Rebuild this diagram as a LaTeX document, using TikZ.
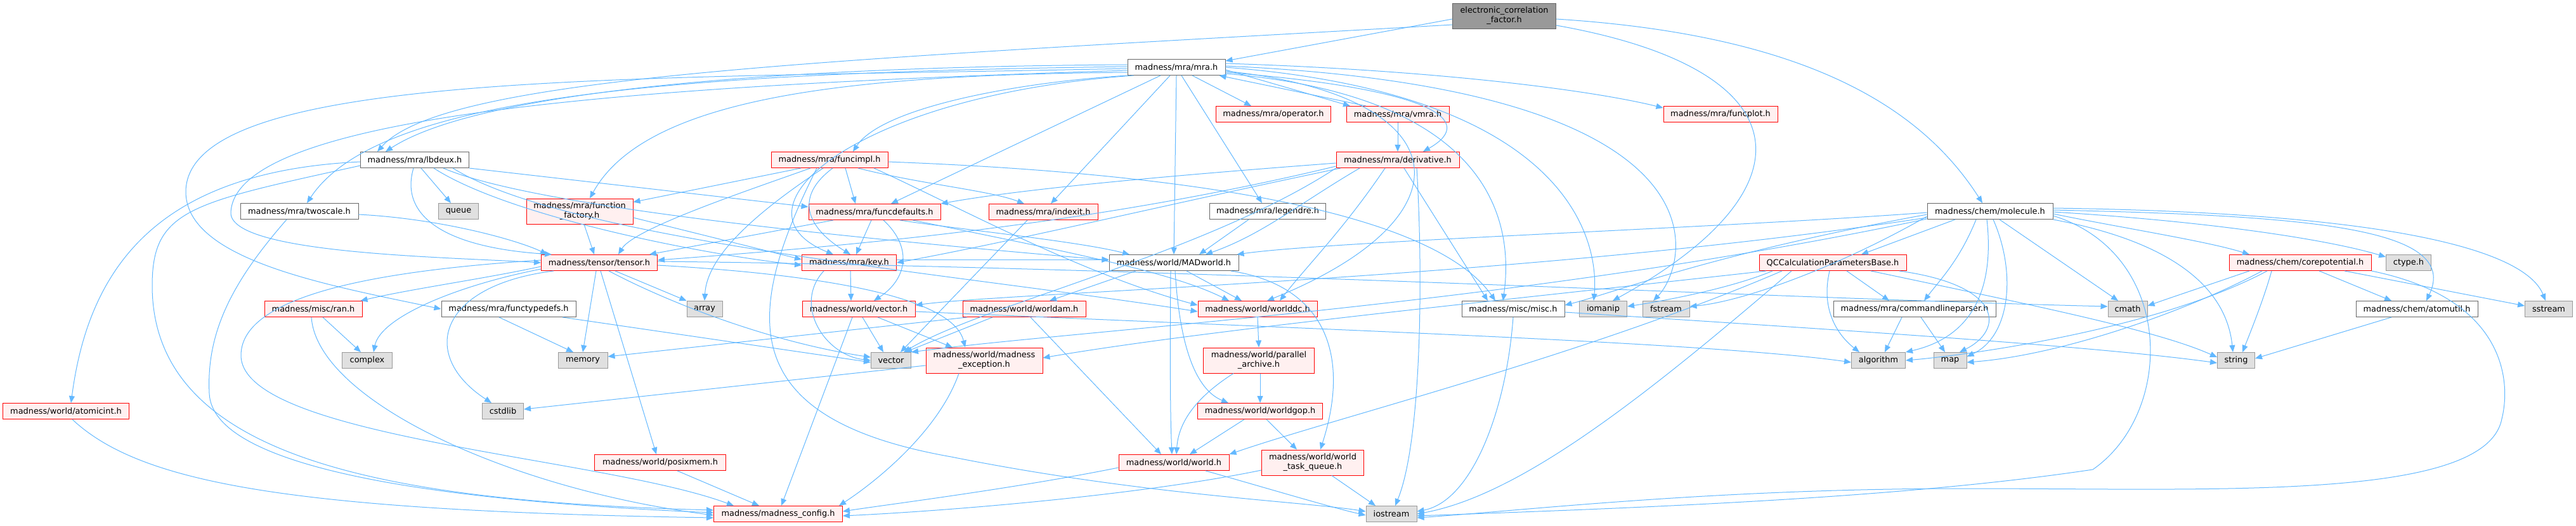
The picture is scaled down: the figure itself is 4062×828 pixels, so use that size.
\documentclass[tikz,border=0pt]{standalone}
\usepackage{fontspec}
\newfontfamily\graphfont{DejaVu Sans}
\usetikzlibrary{arrows.meta}
\definecolor{deplink}{HTML}{63B8FF}
\definecolor{boxgrey}{HTML}{666666}
\definecolor{truncfill}{HTML}{FFF0F0}
\definecolor{sysline}{HTML}{999999}
\definecolor{sysfill}{HTML}{E0E0E0}
\definecolor{rootfill}{HTML}{999999}
\tikzset{
    incl graph/.style = {x=1pt, y=1pt, >={Triangle[length=11pt,width=9pt]}},
    file/.style       = {draw=boxgrey, fill=white, line width=1pt, inner sep=0pt,
                         minimum height=25pt,
                         font={\graphfont\fontsize{12.9pt}{15pt}\selectfont}},
    truncfile/.style  = {file, draw=red, fill=truncfill},
    sysfile/.style    = {file, draw=sysline, fill=sysfill},
    rootfile/.style   = {file, fill=rootfill},
    twoline/.style    = {align=center, minimum height=40pt},
    dep/.style        = {->, draw=deplink, line width=1pt}
}

\begin{document}
\begin{tikzpicture}[incl graph]
\useasboundingbox (0,0) rectangle (4062,-828);

% ================= Files =================
\node[rootfile, twoline, minimum width=163pt] (ecf) at (2372,-25) {electronic\_correlation\\\_factor.h};
\node[file, minimum width=154pt] (mra) at (1855,-106) {madness/mra/mra.h};
\node[truncfile, minimum width=181pt] (operator) at (2008,-180) {madness/mra/operator.h};
\node[truncfile, minimum width=162pt] (vmra) at (2204,-180) {madness/mra/vmra.h};
\node[truncfile, minimum width=180pt] (funcplot) at (2713,-180) {madness/mra/funcplot.h};
\node[file, minimum width=171pt] (lbdeux) at (654,-252) {madness/mra/lbdeux.h};
\node[truncfile, minimum width=184pt] (funcimpl) at (1308,-252) {madness/mra/funcimpl.h};
\node[truncfile, minimum width=194pt] (derivative) at (2204,-252) {madness/mra/derivative.h};
\node[file, minimum width=186pt] (twoscale) at (472,-333) {madness/mra/twoscale.h};
\node[sysfile, minimum width=63pt] (queue) at (723,-333) {queue};
\node[truncfile, twoline, minimum width=168pt] (ffact) at (914,-333) {madness/mra/function\\\_factory.h};
\node[truncfile, minimum width=208pt] (funcdef) at (1379,-334) {madness/mra/funcdefaults.h};
\node[truncfile, minimum width=172pt] (indexit) at (1645,-334) {madness/mra/indexit.h};
\node[file, minimum width=183pt] (legendre) at (1999,-333) {madness/mra/legendre.h};
\node[file, minimum width=198pt] (molecule) at (3138,-333) {madness/chem/molecule.h};
\node[truncfile, minimum width=183pt] (tensor) at (945,-414) {madness/tensor/tensor.h};
\node[truncfile, minimum width=149pt] (key) at (1339,-414) {madness/mra/key.h};
\node[file, minimum width=204pt] (madworld) at (1851,-414) {madness/world/MADworld.h};
\node[truncfile, minimum width=232pt] (qccalc) at (2890,-414) {QCCalculationParametersBase.h};
\node[truncfile, minimum width=224pt] (corepot) at (3627,-414) {madness/chem/corepotential.h};
\node[sysfile, minimum width=71pt] (ctype) at (3798,-414) {ctype.h};
\node[truncfile, minimum width=154pt] (ran) at (494,-487) {madness/misc/ran.h};
\node[file, minimum width=212pt] (functypedefs) at (802,-487) {madness/mra/functypedefs.h};
\node[sysfile, minimum width=56pt] (array) at (1111,-487) {array};
\node[truncfile, minimum width=178pt] (wvector) at (1354,-487) {madness/world/vector.h};
\node[truncfile, minimum width=194pt] (worldam) at (1615,-487) {madness/world/worldam.h};
\node[truncfile, minimum width=188pt] (worlddc) at (1983,-487) {madness/world/worlddc.h};
\node[file, minimum width=162pt] (misc) at (2386,-487) {madness/misc/misc.h};
\node[sysfile, minimum width=75pt] (iomanip) at (2528,-487) {iomanip};
\node[sysfile, minimum width=74pt] (fstream) at (2627,-487) {fstream};
\node[file, minimum width=256pt] (cmdline) at (3019,-487) {madness/mra/commandlineparser.h};
\node[sysfile, minimum width=62pt] (cmath) at (3355,-487) {cmath};
\node[file, minimum width=192pt] (atomutil) at (3811,-487) {madness/chem/atomutil.h};
\node[sysfile, minimum width=75pt] (sstream) at (4019,-487) {sstream};
\node[sysfile, minimum width=79pt] (complex) at (579,-568) {complex};
\node[sysfile, minimum width=78pt] (memory) at (919,-568) {memory};
\node[sysfile, minimum width=63pt] (vector) at (1405,-568) {vector};
\node[truncfile, twoline, minimum width=184pt] (mexc) at (1552,-568) {madness/world/madness\\\_exception.h};
\node[truncfile, twoline, minimum width=175pt] (parchive) at (1985,-568) {madness/world/parallel\\\_archive.h};
\node[sysfile, minimum width=85pt] (algorithm) at (2962,-568) {algorithm};
\node[sysfile, minimum width=52pt] (map) at (3075,-568) {map};
\node[sysfile, minimum width=59pt] (string) at (3526,-568) {string};
\node[truncfile, minimum width=199pt] (atomicint) at (104,-648) {madness/world/atomicint.h};
\node[sysfile, minimum width=65pt] (cstdlib) at (793,-648) {cstdlib};
\node[truncfile, minimum width=197pt] (worldgop) at (1987,-648) {madness/world/worldgop.h};
\node[truncfile, minimum width=207pt] (posixmem) at (1041,-729) {madness/world/posixmem.h};
\node[truncfile, minimum width=174pt] (world) at (1851,-729) {madness/world/world.h};
\node[truncfile, twoline, minimum width=161pt] (taskq) at (2070,-729) {madness/world/world\\\_task\_queue.h};
\node[truncfile, minimum width=203pt] (config) at (1227,-810) {madness/madness\_config.h};
\node[sysfile, minimum width=80pt] (iostream) at (2194,-810) {iostream};

% ================= electronic_correlation_factor.h =================
\draw[dep] ([yshift=-5pt]ecf.west) -- ([yshift=-3pt]mra.north east);
\draw[dep] ([yshift=-14pt]ecf.west) .. controls (1300,-95) and (700,-120) .. ([xshift=27pt]lbdeux.north west);
\draw[dep] ([yshift=-5pt]ecf.east) .. controls (2850,-55) and (3030,-170) .. ([xshift=-12pt]molecule.north);
\draw[dep] ([yshift=-15pt]ecf.east) .. controls (2850,-110) and (2860,-300) .. ([xshift=15pt]iomanip.north);

% ================= mra.h =================
\draw[dep] ([xshift=25pt]mra.south) -- ([xshift=-35pt]operator.north);
\draw[dep] ([yshift=-4pt]mra.east) -- ([xshift=-75pt]vmra.north);
\draw[dep] ([xshift=-50pt]vmra.north) -- ([xshift=-10pt]mra.south east);
\draw[dep] ([yshift=-8pt]mra.east) .. controls (2260,-140) and (2330,-190) .. ([xshift=40pt]derivative.north);
\draw[dep] ([yshift=6pt]mra.east) .. controls (2250,-110) and (2500,-140) .. ([yshift=-3pt]funcplot.north west);
\draw[dep] (mra.south west) .. controls (1600,-130) and (1390,-170) .. ([xshift=37pt]funcimpl.north);
\draw[dep] ([xshift=-25pt]mra.south) -- ([xshift=26pt]funcdef.north);
\draw[dep] ([xshift=-10pt]mra.south) -- ([xshift=12pt]indexit.north);
\draw[dep] (mra.south) -- (madworld.north);
\draw[dep] ([xshift=8pt]mra.south) -- ([xshift=-9pt]legendre.north);
\draw[dep] ([yshift=4pt]mra.west) .. controls (1250,-105) and (760,-140) .. ([xshift=40pt]lbdeux.north west);
\draw[dep] ([yshift=1pt]mra.west) .. controls (1000,-115) and (590,-160) .. ([xshift=12pt]twoscale.north);
\draw[dep] ([yshift=-2pt]mra.west) .. controls (1000,-125) and (300,-110) .. (293,-300)
    .. controls (290,-410) and (520,-450) .. (functypedefs.west);
\draw[dep] ([yshift=-5pt]mra.west) .. controls (1000,-135) and (370,-180) .. (364,-335)
    .. controls (362,-400) and (700,-405) .. (tensor.west);
\draw[dep] ([yshift=-8pt]mra.west) .. controls (1350,-118) and (1020,-150) .. ([xshift=16pt]ffact.north);
\draw[dep] ([xshift=10pt]mra.south west) .. controls (1350,-150) and (1140,-330) .. ([xshift=-25pt]key.north);
\draw[dep] ([yshift=-10pt]mra.east) .. controls (2330,-150) and (2390,-330) .. ([xshift=-16pt]misc.north);
\draw[dep] ([yshift=-6pt]mra.east) .. controls (2300,-150) and (2330,-340) .. ([xshift=15pt]worlddc.north);
\draw[dep] ([yshift=2pt]mra.east) .. controls (2750,-140) and (2660,-420) .. ([xshift=-20pt]fstream.north);
\draw[dep] (mra.east) .. controls (2500,-150) and (2520,-400) .. ([xshift=-15pt]iomanip.north);

% ================= vmra.h, derivative.h =================
\draw[dep] (vmra) -- (derivative);
\draw[dep] ([yshift=-5pt]derivative.west) .. controls (1800,-280) and (1600,-300) .. (funcdef.north east);
\draw[dep] ([xshift=-90pt]derivative.south) .. controls (1850,-320) and (1600,-380) .. (key.east);
\draw[dep] ([xshift=-60pt]derivative.south) .. controls (2050,-320) and (1990,-370) .. ([xshift=50pt]madworld.north);
\draw[dep] ([xshift=-20pt]derivative.south) .. controls (2120,-360) and (2060,-420) .. ([xshift=35pt]worlddc.north);
\draw[dep] ([xshift=10pt]derivative.south) -- ([xshift=-40pt]misc.north);
\draw[dep] ([xshift=30pt]derivative.south) .. controls (2245,-450) and (2240,-700) .. ([xshift=6pt]iostream.north);
\draw[dep] (derivative.south west) .. controls (1900,-400) and (1550,-480) .. ([xshift=20pt]vector.north);
\draw[dep] ([yshift=-10pt]derivative.west) .. controls (1700,-360) and (1300,-390) .. ([yshift=4pt]tensor.east);

% ================= funcimpl.h =================
\draw[dep] ([xshift=-45pt]funcimpl.south) -- ([yshift=-6pt]ffact.north east);
\draw[dep] ([xshift=-30pt]funcimpl.south) .. controls (1180,-300) and (1000,-360) .. ([xshift=30pt]tensor.north);
\draw[dep] ([xshift=25pt]funcimpl.south) -- ([xshift=-30pt]funcdef.north);
\draw[dep] ([xshift=5pt]funcimpl.south) .. controls (1240,-320) and (1290,-370) .. ([xshift=2pt]key.north);
\draw[dep] ([xshift=-10pt]funcimpl.south) .. controls (1200,-330) and (1115,-400) .. (array.north);
\draw[dep] ([xshift=45pt]funcimpl.south) .. controls (1450,-290) and (1560,-300) .. ([xshift=-30pt]indexit.north);
\draw[dep] ([xshift=70pt]funcimpl.south) .. controls (1500,-320) and (1700,-430) .. ([yshift=6pt]worlddc.west);
\draw[dep] ([yshift=-3pt]funcimpl.east) .. controls (1800,-270) and (2250,-320) .. ([xshift=-28pt]misc.north);
\draw[dep] ([xshift=-20pt]funcimpl.south) .. controls (1170,-500) and (1160,-660) .. (1500,-720)
    .. controls (1800,-780) and (2050,-790) .. ([yshift=4pt]iostream.west);

% ================= lbdeux.h, twoscale.h, function_factory.h =================
\draw[dep] ([yshift=-3pt]lbdeux.west) .. controls (250,-270) and (140,-420) .. ([xshift=8pt]atomicint.north);
\draw[dep] ([yshift=-9pt]lbdeux.west) .. controls (300,-320) and (240,-330) .. (240,-450)
    .. controls (240,-720) and (600,-790) .. ([yshift=6pt]config.west);
\draw[dep] ([xshift=10pt]lbdeux.south) -- ([xshift=-12pt]queue.north);
\draw[dep] (lbdeux.south east) -- ([yshift=8pt]funcdef.west);
\draw[dep] ([xshift=-2pt]lbdeux.south) .. controls (630,-340) and (700,-390) .. ([xshift=-75pt]tensor.north);
\draw[dep] ([xshift=30pt]lbdeux.south) .. controls (800,-340) and (1100,-400) .. ([yshift=-4pt]key.west);
\draw[dep] ([xshift=45pt]lbdeux.south) .. controls (850,-330) and (1400,-380) .. ([yshift=4pt]madworld.west);
\draw[dep] ([xshift=60pt]lbdeux.south) .. controls (900,-380) and (1500,-430) .. ([yshift=-4pt]worlddc.west);
\draw[dep] ([yshift=-5pt]twoscale.east) .. controls (700,-345) and (820,-380) .. ([xshift=-82pt]tensor.north);
\draw[dep] ([xshift=-20pt]twoscale.south) .. controls (370,-440) and (325,-520) .. (330,-620)
    .. controls (335,-740) and (700,-790) .. ([yshift=2pt]config.west);
\draw[dep] ([xshift=7pt]ffact.south) -- ([xshift=-8pt]tensor.north);
\draw[dep] ([yshift=-10pt]ffact.east) -- ([yshift=5pt]key.west);

% ================= funcdefaults.h, indexit.h, legendre.h, key.h =================
\draw[dep] ([xshift=-65pt]funcdef.south) -- ([xshift=79pt]tensor.north);
\draw[dep] ([xshift=-5pt]funcdef.south) -- ([xshift=11pt]key.north);
\draw[dep] ([xshift=14pt]funcdef.south) .. controls (1440,-390) and (1430,-440) .. ([xshift=24pt]wvector.north);
\draw[dep] ([xshift=40pt]funcdef.south) .. controls (1500,-360) and (1700,-380) .. ([xshift=-70pt]madworld.north);
\draw[dep] ([xshift=60pt]funcdef.south) .. controls (1700,-400) and (1850,-430) .. ([xshift=-45pt]worlddc.north);
\draw[dep] ([xshift=-25pt]indexit.south) -- ([xshift=15pt]vector.north);
\draw[dep] ([xshift=-30pt]legendre.south) -- ([xshift=40pt]madworld.north);
\draw[dep] ([xshift=-40pt]key.south) .. controls (1250,-480) and (1300,-560) .. (vector.west);
\draw[dep] ([xshift=2pt]key.south) -- ([xshift=-12pt]wvector.north);
\draw[dep] ([yshift=5pt]key.east) -- ([yshift=5pt]madworld.west);

% ================= tensor.h =================
\draw[dep] ([xshift=25pt]tensor.south) -- (array.north west);
\draw[dep] ([xshift=-5pt]tensor.south) -- (memory.north);
\draw[dep] ([xshift=2pt]tensor.south) -- ([xshift=-6pt]posixmem.north);
\draw[dep] ([xshift=15pt]tensor.south) .. controls (1060,-480) and (1220,-540) .. ([yshift=5pt]vector.west);
\draw[dep] ([yshift=-6pt]tensor.west) .. controls (760,-440) and (650,-455) .. ([xshift=-3pt]ran.north east);
\draw[dep] ([yshift=-10pt]tensor.west) .. controls (720,-450) and (600,-500) .. ([xshift=10pt]complex.north);
\draw[dep] ([xshift=-72pt]tensor.south) .. controls (690,-450) and (660,-560) .. ([xshift=-18pt]cstdlib.north);
\draw[dep] ([yshift=4pt]tensor.west) .. controls (620,-425) and (380,-460) .. (380,-560)
    .. controls (380,-690) and (950,-720) .. ([xshift=-70pt]config.north);
\draw[dep] ([yshift=-4pt]tensor.east) .. controls (1250,-430) and (1500,-460) .. ([xshift=-30pt]mexc.north);
\draw[dep] ([yshift=2pt]tensor.east) .. controls (1800,-420) and (2800,-470) .. ([yshift=4pt]cmath.west);

% ================= small leaves into madness_config.h =================
\draw[dep] ([xshift=15pt]ran.south) -- ([xshift=-10pt]complex.north);
\draw[dep] ([xshift=-3pt]ran.south) .. controls (500,-630) and (800,-770) .. ([yshift=-2pt]config.west);
\draw[dep] ([xshift=10pt]atomicint.south) .. controls (220,-760) and (450,-805) .. ([yshift=-6pt]config.west);
\draw[dep] ([xshift=-15pt]functypedefs.south) -- ([xshift=-15pt]memory.north);
\draw[dep] ([xshift=85pt]functypedefs.south) -- ([yshift=-3pt]vector.west);
\draw[dep] ([xshift=27pt]posixmem.south) -- ([xshift=-30pt]config.north);

% ================= world/vector.h, worldam.h, madness_exception.h =================
\draw[dep] ([xshift=6pt]wvector.south) -- ([xshift=-12pt]vector.north);
\draw[dep] ([xshift=30pt]wvector.south) -- ([xshift=-50pt]mexc.north);
\draw[dep] ([xshift=-10pt]wvector.south) -- ([xshift=5pt]config.north);
\draw[dep] ([yshift=-4pt]wvector.east) .. controls (2100,-520) and (2700,-540) .. ([yshift=-3pt]algorithm.west);
\draw[dep] ([xshift=-50pt]worldam.south) -- ([xshift=22pt]vector.north);
\draw[dep] ([xshift=-90pt]worldam.south) -- ([yshift=6pt]memory.east);
\draw[dep] ([xshift=10pt]worldam.south) -- ([xshift=-20pt]world.north);
\draw[dep] ([xshift=-40pt]mexc.south) .. controls (1480,-680) and (1380,-760) .. ([xshift=-6pt]config.north east);
\draw[dep] ([yshift=-8pt]mexc.west) -- ([yshift=3pt]cstdlib.east);

% ================= MADworld.h and the world headers =================
\draw[dep] ([xshift=-60pt]madworld.south) -- ([xshift=40pt]worldam.north);
\draw[dep] ([xshift=20pt]madworld.south) -- ([xshift=-25pt]worlddc.north);
\draw[dep] ([xshift=-5pt]madworld.south) .. controls (1845,-550) and (1845,-650) .. ([xshift=-3pt]world.north);
\draw[dep] ([xshift=2pt]madworld.south) .. controls (1862,-580) and (1900,-620) .. ([xshift=-50pt]worldgop.north);
\draw[dep] ([xshift=90pt]madworld.south) .. controls (2090,-450) and (2130,-560) .. ([xshift=12pt]taskq.north);
\draw[dep] (worlddc.south) -- (parchive.north);
\draw[dep] ([xshift=2pt]parchive.south) -- (worldgop.north);
\draw[dep] ([xshift=-40pt]parchive.south) .. controls (1880,-630) and (1858,-670) .. ([xshift=4pt]world.north);
\draw[dep] ([xshift=-25pt]worldgop.south) -- ([xshift=25pt]world.north);
\draw[dep] ([xshift=10pt]worldgop.south) -- ([xshift=-25pt]taskq.north);
\draw[dep] ([yshift=-8pt]world.west) .. controls (1600,-770) and (1400,-795) .. ([yshift=4pt]config.east);
\draw[dep] ([xshift=50pt]world.south) .. controls (2000,-770) and (2100,-800) .. ([yshift=-2pt]iostream.west);
\draw[dep] ([yshift=-12pt]taskq.west) .. controls (1800,-780) and (1500,-805) .. ([yshift=-3pt]config.east);
\draw[dep] ([xshift=30pt]taskq.south) -- ([xshift=-25pt]iostream.north);

% ================= misc.h =================
\draw[dep] (misc.south) .. controls (2375,-650) and (2320,-790) .. ([yshift=4pt]iostream.east);
\draw[dep] ([yshift=-5pt]misc.east) .. controls (2900,-520) and (3300,-545) .. ([yshift=-4pt]string.west);

% ================= molecule.h =================
\draw[dep] ([xshift=-55pt]molecule.south) -- ([xshift=45pt]qccalc.north);
\draw[dep] ([xshift=-22pt]molecule.south) .. controls (3090,-410) and (3060,-440) .. ([xshift=15pt]cmdline.north);
\draw[dep] ([xshift=15pt]molecule.south) -- ([xshift=-15pt]cmath.north);
\draw[dep] ([xshift=5pt]molecule.south) .. controls (3180,-430) and (3170,-530) .. ([yshift=6pt]map.east);
\draw[dep] ([xshift=-5pt]molecule.south) .. controls (3150,-500) and (3070,-540) .. (algorithm.north east);
\draw[dep] ([yshift=-4pt]molecule.east) .. controls (3350,-360) and (3480,-380) .. ([xshift=-80pt]corepot.north);
\draw[dep] ([yshift=-1pt]molecule.east) .. controls (3500,-350) and (3680,-380) .. ([yshift=-4pt]ctype.north west);
\draw[dep] ([yshift=2pt]molecule.east) .. controls (3650,-340) and (3880,-360) .. ([xshift=15pt]atomutil.north);
\draw[dep] ([yshift=5pt]molecule.east) .. controls (3750,-335) and (3980,-390) .. ([xshift=-5pt]sstream.north);
\draw[dep] (molecule.south east) .. controls (3420,-380) and (3510,-450) .. ([xshift=-5pt]string.north);
\draw[dep] ([yshift=-7pt]molecule.east) .. controls (3430,-400) and (3430,-650) .. (3300,-740)
    .. controls (3000,-785) and (2600,-800) .. ([yshift=-3pt]iostream.east);
\draw[dep] ([yshift=-2pt]molecule.west) .. controls (2700,-360) and (2100,-380) .. ([xshift=-3pt]madworld.north east);
\draw[dep] ([yshift=-5pt]molecule.west) .. controls (2700,-400) and (2550,-460) .. ([yshift=6pt]misc.east);
\draw[dep] ([yshift=-8pt]molecule.west) .. controls (2900,-420) and (2750,-475) .. ([yshift=4pt]fstream.east);
\draw[dep] ([yshift=-10pt]molecule.west) .. controls (2400,-440) and (1600,-460) .. ([yshift=6pt]wvector.east);
\draw[dep] ([yshift=-12pt]molecule.west) .. controls (2400,-480) and (1700,-520) .. (vector.north east);

% ================= QCCalculationParametersBase.h =================
\draw[dep] ([xshift=22pt]qccalc.south) -- ([xshift=-40pt]cmdline.north);
\draw[dep] ([xshift=-5pt]qccalc.south) .. controls (2870,-490) and (2900,-530) .. ([xshift=-30pt]algorithm.north);
\draw[dep] ([xshift=105pt]qccalc.south) .. controls (3160,-450) and (3160,-520) .. ([xshift=15pt]map.north);
\draw[dep] ([xshift=60pt]qccalc.south) .. controls (3200,-480) and (3400,-520) .. ([yshift=5pt]string.west);
\draw[dep] ([xshift=-95pt]qccalc.south) .. controls (2740,-450) and (2650,-470) .. ([yshift=4pt]iomanip.east);
\draw[dep] ([xshift=-80pt]qccalc.south) .. controls (2500,-560) and (2100,-660) .. (world.north east);
\draw[dep] ([xshift=-105pt]qccalc.south) .. controls (2400,-470) and (1900,-520) .. ([yshift=4pt]mexc.east);
\draw[dep] ([xshift=-65pt]qccalc.south) .. controls (2600,-620) and (2400,-780) .. (iostream.east);

% ================= commandlineparser.h, corepotential.h, atomutil.h =================
\draw[dep] ([xshift=-20pt]cmdline.south) -- ([xshift=10pt]algorithm.north);
\draw[dep] ([xshift=10pt]cmdline.south) -- ([xshift=-8pt]map.north);
\draw[dep] ([xshift=-45pt]corepot.south) .. controls (3570,-470) and (3550,-520) .. ([xshift=10pt]string.north);
\draw[dep] ([xshift=30pt]corepot.south) -- ([xshift=-40pt]atomutil.north);
\draw[dep] ([xshift=70pt]corepot.south) -- ([yshift=5pt]sstream.west);
\draw[dep] ([xshift=-80pt]corepot.south) .. controls (3480,-450) and (3420,-470) .. ([yshift=5pt]cmath.east);
\draw[dep] ([xshift=-60pt]corepot.south) .. controls (3450,-490) and (3250,-560) .. ([yshift=-3pt]map.east);
\draw[dep] ([xshift=-52pt]corepot.south) .. controls (3400,-520) and (3100,-560) .. (algorithm.east);
\draw[dep] (corepot.south east) .. controls (3950,-470) and (3960,-600) .. (3945,-660)
    .. controls (3920,-790) and (3500,-770) .. (3100,-770)
    .. controls (2700,-770) and (2400,-805) .. ([yshift=-6pt]iostream.east);
\draw[dep] ([xshift=-40pt]atomutil.south) -- ([yshift=3pt]string.east);

\end{tikzpicture}
\end{document}
